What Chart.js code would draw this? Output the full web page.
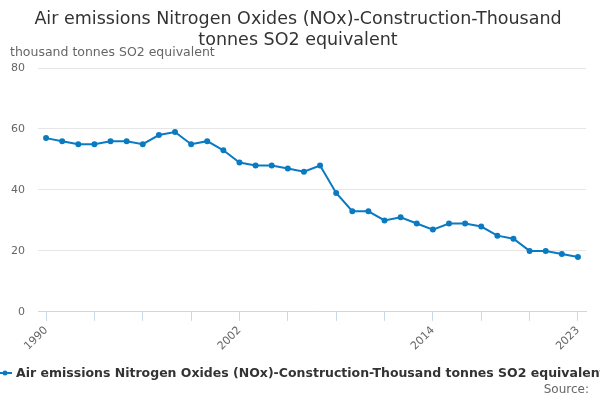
<!DOCTYPE html>
<html>
<head>
<meta charset="utf-8">
<script src="https://cdn.jsdelivr.net/npm/chart.js@4"></script>
<style>
  html, body { margin: 0; padding: 0; background: #fff; }
  #wrap { width: 600px; height: 400px; }
</style>
</head>
<body>
<div id="wrap"><canvas id="myChart"></canvas></div>
<script>
const years = [];
for (let y = 1990; y <= 2023; y++) years.push(y);

const emissions = [57, 56, 55, 55, 56, 56, 55, 58, 59, 55, 56, 53, 49, 48, 48, 47, 46, 48,
                   39, 33, 33, 30, 31, 29, 27, 29, 29, 28, 25, 24, 20, 20, 19, 18];

const tickYears = [1990, 1993, 1996, 1999, 2002, 2005, 2008, 2011, 2014, 2017, 2020, 2023];
const labelYears = [1990, 2002, 2014, 2023];

const seriesName = 'Air emissions Nitrogen Oxides (NOx)-Construction-Thousand tonnes SO2 equivalent';
const lineColor = '#0a7bc2';
const font = 'DejaVu Sans';

// legend (runs off both edges like the original) and the "Source:" line
const footerPlugin = {
	id: 'footer',
	afterDraw(chart) {
		const ctx = chart.ctx;
		ctx.save();
		ctx.strokeStyle = lineColor;
		ctx.fillStyle = lineColor;
		ctx.lineWidth = 2;
		ctx.beginPath();
		ctx.moveTo(-2, 373);
		ctx.lineTo(12, 373);
		ctx.stroke();
		ctx.beginPath();
		ctx.arc(5, 373, 2.5, 0, Math.PI * 2);
		ctx.fill();

		ctx.font = 'bold 12.5px "' + font + '"';
		ctx.fillStyle = '#333';
		ctx.textAlign = 'left';
		ctx.textBaseline = 'middle';
		ctx.fillText(chart.data.datasets[0].label, 16, 374);

		ctx.font = '12px "' + font + '"';
		ctx.fillStyle = '#666';
		ctx.textAlign = 'right';
		ctx.fillText('Source:', 589, 390);
		ctx.restore();
	}
};

const ctx = document.getElementById('myChart').getContext('2d');
new Chart(ctx, {
	type: 'line',
	data: {
		datasets: [{
			label: seriesName,
			data: years.map((y, i) => ({ x: y, y: emissions[i] })),
			borderColor: lineColor,
			backgroundColor: lineColor,
			borderWidth: 2,
			pointRadius: 2,
			pointHoverRadius: 4,
			tension: 0
		}]
	},
	options: {
		responsive: true,
		maintainAspectRatio: false,
		animation: false,
		layout: { padding: { left: 10, right: 14, top: 0, bottom: 44 } },
		plugins: {
			title: {
				display: true,
				text: ['Air emissions Nitrogen Oxides (NOx)-Construction-Thousand', 'tonnes SO2 equivalent'],
				color: '#333',
				font: { family: font, size: 17.5, weight: 'normal', lineHeight: 1.2 },
				padding: { top: 9, bottom: -6 }
			},
			subtitle: {
				display: true,
				text: 'thousand tonnes SO2 equivalent',
				align: 'start',
				color: '#666',
				font: { family: font, size: 12.5 },
				padding: { top: 0, bottom: 8 }
			},
			legend: { display: false },
			tooltip: { enabled: true }
		},
		scales: {
			x: {
				type: 'linear',
				min: 1989.5,
				max: 2023.5,
				afterBuildTicks(axis) {
					axis.ticks = tickYears.map(v => ({ value: v }));
				},
				ticks: {
					autoSkip: false,
					maxRotation: 45,
					minRotation: 45,
					color: '#666',
					font: { family: font, size: 11 },
					callback: v => labelYears.includes(v) ? String(v) : ''
				},
				grid: {
					drawOnChartArea: false,
					color: '#ccd6eb',
					tickLength: 9
				},
				border: { color: '#ccd6eb' }
			},
			y: {
				min: 0,
				max: 80,
				afterFit(axis) {
					axis.width = 28;
				},
				ticks: {
					stepSize: 20,
					color: '#666',
					font: { family: font, size: 11 },
					padding: 13
				},
				grid: {
					color: '#e6e6e6',
					tickLength: 0
				},
				border: { display: false }
			}
		}
	},
	plugins: [footerPlugin]
});
</script>
</body>
</html>
